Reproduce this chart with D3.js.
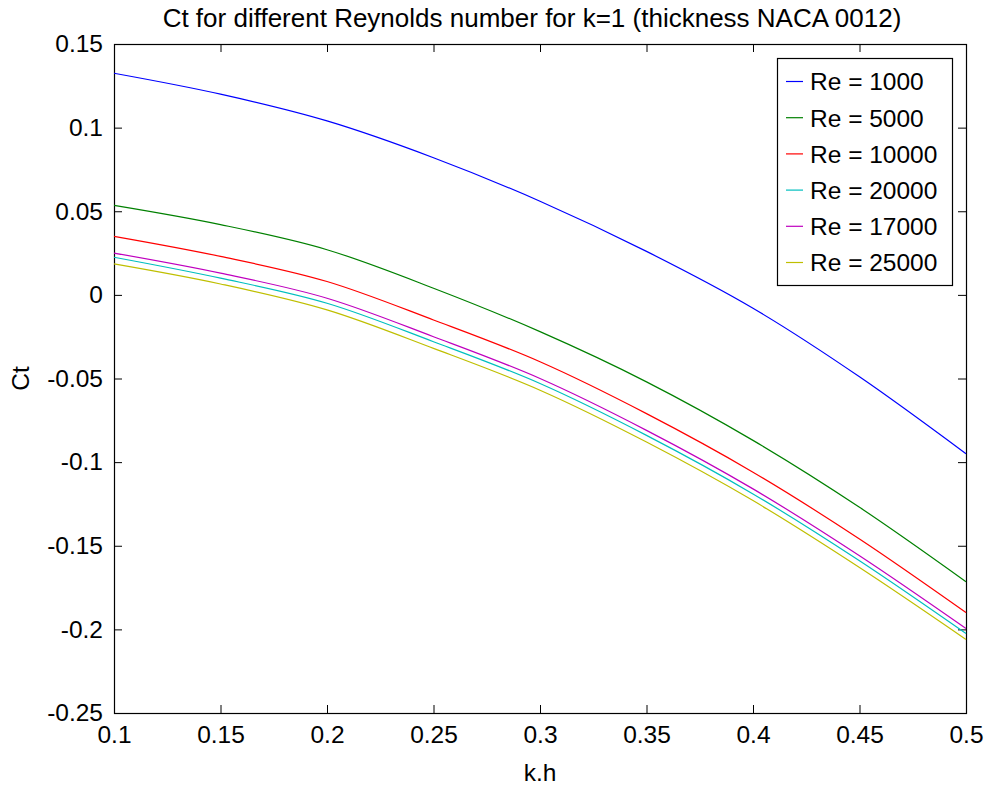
<!DOCTYPE html>
<html>
<head>
<meta charset="utf-8">
<script src="https://cdn.jsdelivr.net/npm/d3@7"></script>
<style>
  body { margin: 0; background: #fff; }
  svg { display: block; }
  text { font-family: "Liberation Sans", Arial, sans-serif; fill: #000; }
</style>
</head>
<body>
<svg id="chart" width="984" height="785"></svg>
<script>
// k.h sample points
const kh = [0.1, 0.15, 0.2, 0.25, 0.3, 0.35, 0.4, 0.45, 0.5];

// Ct values, one array per Reynolds number
const ct1000 = [0.1325, 0.120, 0.104, 0.082, 0.056, 0.026, -0.008, -0.049, -0.095];
const ct5000 = [0.0535, 0.042, 0.027, 0.004, -0.022, -0.052, -0.087, -0.127, -0.1715];
const ct10000 = [0.035, 0.023, 0.008, -0.015, -0.040, -0.071, -0.106, -0.146, -0.190];
const ct20000 = [0.0225, 0.010, -0.005, -0.028, -0.053, -0.084, -0.119, -0.159, -0.2025];
const ct17000 = [0.025, 0.013, -0.002, -0.025, -0.050, -0.081, -0.116, -0.156, -0.1995];
const ct25000 = [0.0185, 0.0065, -0.009, -0.032, -0.057, -0.088, -0.123, -0.163, -0.206];

const seriesNames = ['Re = 1000', 'Re = 5000', 'Re = 10000', 'Re = 20000', 'Re = 17000', 'Re = 25000'];
const seriesValues = [ct1000, ct5000, ct10000, ct20000, ct17000, ct25000];
const colors = ['#0000ff', '#008000', '#ff0000', '#00bfbf', '#bf00bf', '#bfbf00'];

const xTicks = [0.1, 0.15, 0.2, 0.25, 0.3, 0.35, 0.4, 0.45, 0.5];
const yTicks = [0.15, 0.1, 0.05, 0, -0.05, -0.1, -0.15, -0.2, -0.25];

const title = 'Ct for different Reynolds number for k=1 (thickness NACA 0012)';

const box = { left: 114, right: 966, top: 44, bottom: 713 };
const fontSize = 24.5;
const tickLen = 8;

const svg = d3.select('#chart');

const x = d3.scaleLinear().domain([0.1, 0.5]).range([box.left, box.right]);
const y = d3.scaleLinear().domain([-0.25, 0.15]).range([box.bottom, box.top]);

const fmt = d => String(+d.toFixed(2));

// axes, ticks pointing inward on all four sides
svg.append('g')
    .attr('transform', `translate(0,${box.bottom})`)
    .call(d3.axisBottom(x).tickValues(xTicks).tickFormat(fmt).tickSizeInner(-tickLen).tickSizeOuter(0).tickPadding(12.5));
svg.append('g')
    .attr('transform', `translate(0,${box.top})`)
    .call(d3.axisTop(x).tickValues(xTicks).tickFormat('').tickSizeInner(-tickLen).tickSizeOuter(0));
svg.append('g')
    .attr('transform', `translate(${box.left},0)`)
    .call(d3.axisLeft(y).tickValues(yTicks).tickFormat(fmt).tickSizeInner(-tickLen).tickSizeOuter(0).tickPadding(11));
svg.append('g')
    .attr('transform', `translate(${box.right},0)`)
    .call(d3.axisRight(y).tickValues(yTicks).tickFormat('').tickSizeInner(-tickLen).tickSizeOuter(0));

svg.selectAll('.domain').remove();
svg.selectAll('.tick line').attr('stroke', '#000').attr('stroke-width', 1);
svg.selectAll('.tick text').style('font-size', `${fontSize}px`);

svg.append('rect')
    .attr('x', box.left + 0.5)
    .attr('y', box.top + 0.5)
    .attr('width', box.right - box.left)
    .attr('height', box.bottom - box.top)
    .attr('fill', 'none')
    .attr('stroke', '#000')
    .attr('stroke-width', 1.2);

// curves
const line = d3.line()
    .x((d, i) => x(kh[i]))
    .y(d => y(d))
    .curve(d3.curveMonotoneX);
svg.append('g')
    .selectAll('path')
    .data(seriesValues)
    .join('path')
    .attr('d', line)
    .attr('fill', 'none')
    .attr('stroke', (d, i) => colors[i])
    .attr('stroke-width', 1.2);

// labels
svg.append('text')
    .attr('x', 532)
    .attr('y', 27)
    .attr('text-anchor', 'middle')
    .style('font-size', '26px')
    .text(title);

svg.append('text')
    .attr('x', (box.left + box.right) / 2)
    .attr('y', 781)
    .attr('text-anchor', 'middle')
    .style('font-size', `${fontSize}px`)
    .text('k.h');

svg.append('text')
    .attr('transform', `translate(29,${(box.top + box.bottom) / 2}) rotate(-90)`)
    .attr('text-anchor', 'middle')
    .style('font-size', `${fontSize}px`)
    .text('Ct');

// legend
const lg = { left: 777, right: 952, top: 58, bottom: 285 };
const legend = svg.append('g');
legend.append('rect')
    .attr('x', lg.left + 0.5)
    .attr('y', lg.top + 0.5)
    .attr('width', lg.right - lg.left)
    .attr('height', lg.bottom - lg.top)
    .attr('fill', '#fff')
    .attr('stroke', '#000')
    .attr('stroke-width', 1.2);

const rowY = d3.scalePoint().domain(seriesNames).range([81.5, 262.5]);
const rows = legend.selectAll('g.row')
    .data(seriesNames)
    .join('g')
    .attr('class', 'row')
    .attr('transform', d => `translate(0,${rowY(d)})`);
rows.append('line')
    .attr('x1', lg.left + 9)
    .attr('x2', 803)
    .attr('stroke', (d, i) => colors[i])
    .attr('stroke-width', 1.2);
rows.append('text')
    .attr('x', 810)
    .attr('dy', '0.36em')
    .style('font-size', `${fontSize}px`)
    .text(d => d);
</script>
</body>
</html>
